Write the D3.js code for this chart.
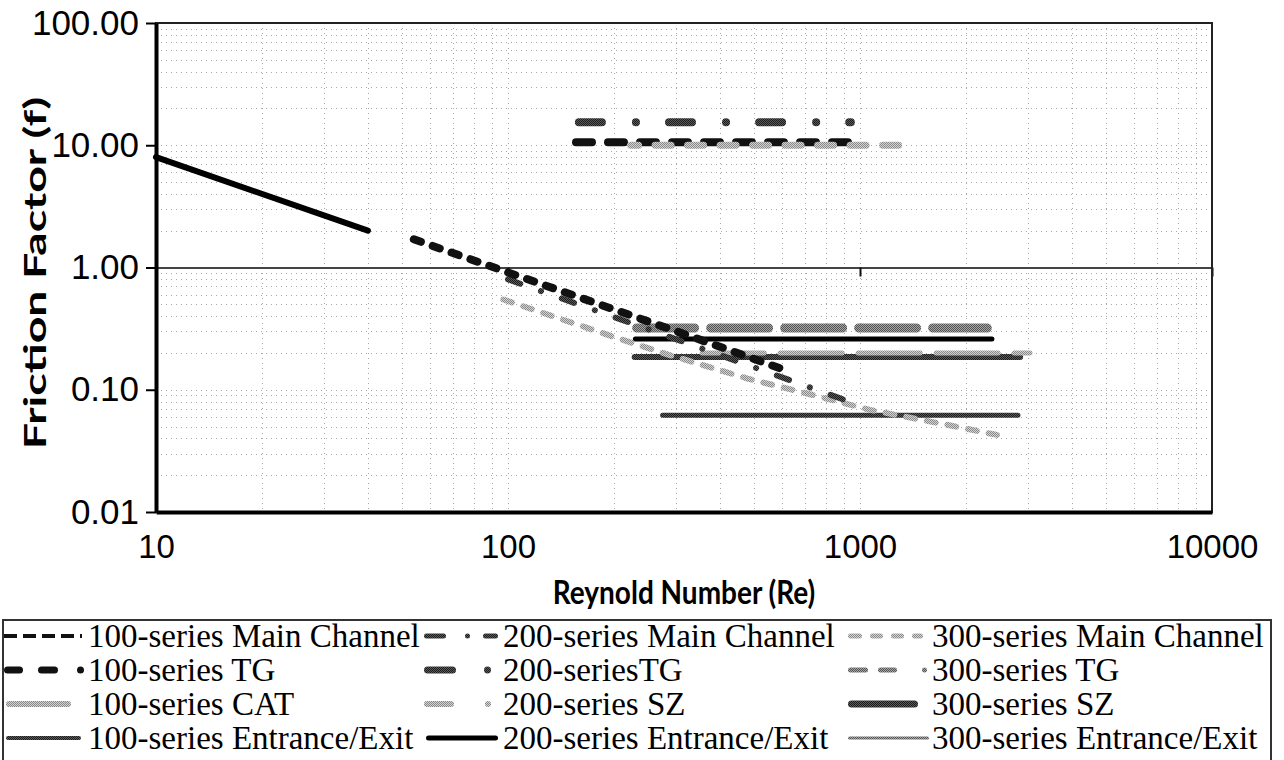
<!DOCTYPE html>
<html>
<head>
<meta charset="utf-8">
<script src="https://cdn.jsdelivr.net/npm/d3@7"></script>
<style>
  html, body { margin: 0; padding: 0; background: #fff; }
  svg { display: block; }
</style>
</head>
<body>
<svg id="chart" width="1284" height="760"></svg>
<script>
// ---- Data: Reynolds number (Re) and friction factor (f) per series ----
const laminarRe = [10, 40];
const laminarF  = [8.0, 2.0];

const main100Re = [54, 95, 294, 616];
const main100F  = [1.70, 0.96, 0.308, 0.144];

const main200Re = [100, 258, 968];
const main200F  = [0.80, 0.303, 0.077];

const main300Re = [97, 195, 285, 481, 711, 1067, 1778, 2450];
const main300F  = [0.547, 0.277, 0.194, 0.123, 0.0928, 0.0685, 0.0515, 0.0427];

const tg100Re = [156, 934];
const tg100F  = [10.6, 10.6];

const tg200Re = [159, 942];
const tg200F  = [15.4, 15.4];

const tg300Re = [223, 1330];
const tg300F  = [10.0, 10.0];

const cat100Re = [356, 3040];
const cat100F  = [0.20, 0.20];

const sz200Re = [232, 2300];
const sz200F  = [0.32, 0.32];

const sz300Re = [229, 2850];
const sz300F  = [0.185, 0.185];

const ee100Re = [275, 2810];
const ee100F  = [0.062, 0.062];

const ee200Re = [230, 2370];
const ee200F  = [0.26, 0.26];

const ee300Re = [];
const ee300F  = [];

const xTickValues = [10, 100, 1000, 10000];
const yTickValues = [0.01, 0.1, 1, 10, 100];

const legendNames = [
  "100-series Main Channel", "200-series Main Channel", "300-series Main Channel",
  "100-series TG", "200-seriesTG", "300-series TG",
  "100-series CAT", "200-series SZ", "300-series SZ",
  "100-series Entrance/Exit", "200-series Entrance/Exit", "300-series Entrance/Exit"
];

const seriesData = {
  "100-series Main Channel": [main100Re, main100F],
  "200-series Main Channel": [main200Re, main200F],
  "300-series Main Channel": [main300Re, main300F],
  "100-series TG": [tg100Re, tg100F],
  "200-seriesTG": [tg200Re, tg200F],
  "300-series TG": [tg300Re, tg300F],
  "100-series CAT": [cat100Re, cat100F],
  "200-series SZ": [sz200Re, sz200F],
  "300-series SZ": [sz300Re, sz300F],
  "100-series Entrance/Exit": [ee100Re, ee100F],
  "200-series Entrance/Exit": [ee200Re, ee200F],
  "300-series Entrance/Exit": [ee300Re, ee300F]
};

// ---- Styles ----
const lineStyle = {
  "laminar":                  { stroke: "#000", width: 6 },
  "100-series Main Channel":  { stroke: "#111", width: 8, dash: "7.5,12.5" },
  "200-series Main Channel":  { stroke: "url(#hatchDark)", width: 6, dash: "13,22,0.1,22" },
  "300-series Main Channel":  { stroke: "url(#hatchLight)", width: 6, dash: "9,12" },
  "100-series TG":            { stroke: "#111", width: 8, dash: "16,16" },
  "200-seriesTG":             { stroke: "url(#hatchDark)", width: 8, dash: "23,34,0.1,33" },
  "300-series TG":            { stroke: "url(#hatchLight)", width: 7, dash: "16,16.5", offset: 8 },
  "100-series CAT":           { stroke: "url(#hatchLight)", width: 5, dash: "62,16" },
  "200-series SZ":            { stroke: "url(#hatchMid)", width: 9, dash: "58,16" },
  "300-series SZ":            { stroke: "url(#hatchDark)", width: 6 },
  "100-series Entrance/Exit": { stroke: "url(#hatchDark)", width: 5 },
  "200-series Entrance/Exit": { stroke: "#000", width: 5 },
  "300-series Entrance/Exit": { stroke: "url(#hatchMid)", width: 3 }
};

// legend swatch pieces: [start, end] offsets from the label's x position (a single value is a dot)
const swatchStyle = {
  "100-series Main Channel":  { stroke: "#111", width: 4, cap: "butt", parts: [[-84,-71],[-65,-52],[-46,-33],[-27,-14],[-8,-6]] },
  "200-series Main Channel":  { stroke: "url(#hatchDark)", width: 5, parts: [[-79,-57],[-38],[-20,-5]] },
  "300-series Main Channel":  { stroke: "url(#hatchLight)", width: 5, parts: [[-84,-70],[-62,-49],[-41,-28],[-20,-9]] },
  "100-series TG":            { stroke: "#111", width: 7, parts: [[-84,-65],[-50,-30],[-11]] },
  "200-seriesTG":             { stroke: "url(#hatchDark)", width: 7, parts: [[-79,-47],[-19]] },
  "300-series TG":            { stroke: "url(#hatchMid)", width: 5, parts: [[-84,-64],[-54,-35],[-10]] },
  "100-series CAT":           { stroke: "url(#hatchLight)", width: 6, parts: [[-82,-17]] },
  "200-series SZ":            { stroke: "url(#hatchLight)", width: 6, parts: [[-79,-49],[-18]] },
  "300-series SZ":            { stroke: "url(#hatchDark)", width: 7, parts: [[-84,-14]] },
  "100-series Entrance/Exit": { stroke: "url(#hatchDark)", width: 4, parts: [[-82,-7]] },
  "200-series Entrance/Exit": { stroke: "#000", width: 5, parts: [[-77,-5]] },
  "300-series Entrance/Exit": { stroke: "url(#hatchMid)", width: 3, parts: [[-84,-3]] }
};

// ---- Chart ----
const svg = d3.select("#chart");
const plot = { left: 156, right: 1212, top: 23, bottom: 512 };

const x = d3.scaleLog().domain([10, 10000]).range([plot.left, plot.right]);
const y = d3.scaleLog().domain([0.01, 100]).range([plot.bottom, plot.top]);

// dithered fills for the grey line styles
const defs = svg.append("defs");
function checker(id, base, dot) {
  const p = defs.append("pattern").attr("id", id)
    .attr("width", 2).attr("height", 2).attr("patternUnits", "userSpaceOnUse");
  p.append("rect").attr("width", 2).attr("height", 2).attr("fill", base);
  p.append("rect").attr("width", 1).attr("height", 1).attr("fill", dot);
  p.append("rect").attr("x", 1).attr("y", 1).attr("width", 1).attr("height", 1).attr("fill", dot);
}
checker("hatchDark", "#5a5a5a", "#1c1c1c");
checker("hatchMid", "#a4a4a4", "#555");
checker("hatchLight", "#d2d2d2", "#8a8a8a");

// faint dotted gridlines at every log step
const xGrid = [];
[10, 100, 1000].forEach(dec => d3.range(1, 10).forEach(k => { const v = k * dec; if (v > 10) xGrid.push(v); }));
const yGrid = [];
[0.01, 0.1, 1, 10].forEach(dec => d3.range(1, 10).forEach(k => { const v = +(k * dec).toPrecision(3); if (v > 0.01 && v !== 1) yGrid.push(v); }));

const grid = svg.append("g").attr("stroke", "#a8a8a8").attr("stroke-width", 1)
  .attr("stroke-dasharray", "1,4");
grid.selectAll(".gx").data(xGrid).join("line")
  .attr("x1", d => Math.round(x(d)) + 0.5).attr("x2", d => Math.round(x(d)) + 0.5)
  .attr("y1", plot.top).attr("y2", plot.bottom);
grid.selectAll(".gy").data(yGrid).join("line")
  .attr("y1", d => Math.round(y(d)) + 0.5).attr("y2", d => Math.round(y(d)) + 0.5)
  .attr("x1", plot.left).attr("x2", plot.right);

// horizontal axis line crossing at f = 1, with its ticks
svg.append("g")
  .attr("transform", `translate(0,${y(1)})`)
  .call(d3.axisBottom(x).tickValues(xTickValues).tickFormat("").tickSize(9).tickSizeOuter(0))
  .call(g => g.select(".domain").attr("stroke", "#444").attr("stroke-width", 2))
  .call(g => g.selectAll(".tick line").attr("stroke", "#111").attr("stroke-width", 2));

// series lines
const line = d3.line().x(d => x(d[0])).y(d => y(d[1]));
function drawSeries(key, re, f) {
  const st = lineStyle[key];
  const pts = re.map((r, i) => [r, f[i]]);
  if (pts.length < 2) return;
  svg.append("path")
    .attr("d", line(pts))
    .attr("fill", "none")
    .attr("stroke", st.stroke)
    .attr("stroke-width", st.width)
    .attr("stroke-linecap", "round")
    .attr("stroke-linejoin", "round")
    .attr("stroke-dasharray", st.dash || null)
    .attr("stroke-dashoffset", st.offset || null);
}

drawSeries("laminar", laminarRe, laminarF);
const drawOrder = [
  "200-seriesTG", "100-series TG", "300-series TG",
  "200-series SZ", "200-series Entrance/Exit", "300-series SZ", "100-series CAT",
  "100-series Entrance/Exit", "300-series Entrance/Exit",
  "300-series Main Channel", "200-series Main Channel", "100-series Main Channel"
];
drawOrder.forEach(k => drawSeries(k, seriesData[k][0], seriesData[k][1]));

// plot frame
svg.append("rect")
  .attr("x", plot.left).attr("y", plot.top)
  .attr("width", plot.right - plot.left).attr("height", plot.bottom - plot.top)
  .attr("fill", "none").attr("stroke", "#222").attr("stroke-width", 2);

// y axis
svg.append("g")
  .attr("transform", `translate(${plot.left},0)`)
  .call(d3.axisLeft(y).tickValues(yTickValues).tickFormat(d3.format(".2f")).tickSize(10).tickPadding(7).tickSizeOuter(0))
  .call(g => g.select(".domain").attr("stroke", "#000").attr("stroke-width", 4))
  .call(g => g.selectAll(".tick line").attr("stroke", "#000").attr("stroke-width", 2))
  .call(g => g.selectAll("text").attr("fill", "#000")
      .attr("font-family", "'Liberation Sans', Arial, sans-serif").attr("font-size", 35));

// x axis labels along the bottom of the plot
svg.append("g")
  .attr("transform", `translate(0,${plot.bottom})`)
  .call(d3.axisBottom(x).tickValues(xTickValues).tickFormat(d3.format("d")).tickSize(0).tickPadding(23))
  .call(g => g.select(".domain").attr("stroke", "#000").attr("stroke-width", 4))
  .call(g => g.selectAll("text").attr("fill", "#000")
      .attr("font-family", "'Liberation Sans', Arial, sans-serif").attr("font-size", 33));

// axis titles
svg.append("text")
  .attr("transform", `translate(${(plot.left + plot.right) / 2},604) scale(1,1.15)`)
  .attr("text-anchor", "middle")
  .attr("font-family", "Lato, 'Open Sans', sans-serif").attr("font-weight", 700)
  .attr("font-size", 28).attr("fill", "#000")
  .text("Reynold Number (Re)");

svg.append("text")
  .attr("transform", `translate(46,273) rotate(-90) scale(1.5,1)`)
  .attr("text-anchor", "middle")
  .attr("font-family", "Lato, 'Open Sans', sans-serif").attr("font-weight", 700)
  .attr("font-size", 31).attr("fill", "#000")
  .text("Friction Factor (f)");

// ---- Legend ----
const legend = svg.append("g");
legend.append("rect")
  .attr("x", 3).attr("y", 620).attr("width", 1268).attr("height", 160)
  .attr("fill", "#fff").attr("stroke", "#333").attr("stroke-width", 2);

const colX = [88, 503, 932];
const rowBase = [647, 681, 715, 749];

legendNames.forEach((name, i) => {
  const cx = colX[i % 3], by = rowBase[Math.floor(i / 3)];
  const sw = swatchStyle[name];
  const ly = by - 11;
  sw.parts.forEach(p => {
    const a = p[0], b = p.length > 1 ? p[1] : p[0];
    const half = sw.cap === "butt" ? 0 : sw.width / 2;
    const x0 = cx + a + half, x1 = Math.max(cx + b - half, x0 + 0.01);
    legend.append("line")
      .attr("x1", x0).attr("x2", x1).attr("y1", ly).attr("y2", ly)
      .attr("stroke", sw.stroke).attr("stroke-width", sw.width)
      .attr("stroke-linecap", sw.cap || "round");
  });
  legend.append("text")
    .attr("x", cx).attr("y", by)
    .attr("font-family", "'Liberation Serif', 'Times New Roman', serif")
    .attr("font-size", 33).attr("fill", "#000")
    .text(name);
});
</script>
</body>
</html>
